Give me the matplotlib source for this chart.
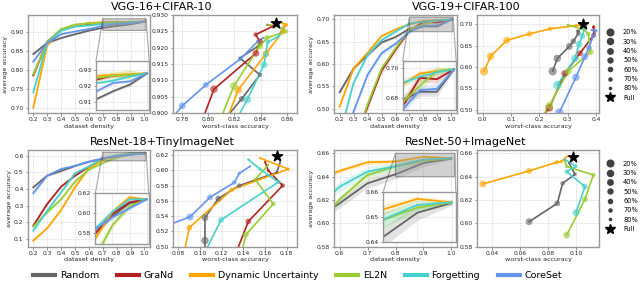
import numpy as np
import matplotlib
matplotlib.use("Agg")
import matplotlib.pyplot as plt
from matplotlib.lines import Line2D

methods = ["Random", "GraNd", "Dynamic Uncertainty", "EL2N", "Forgetting", "CoreSet"]
colors = ["#666666", "#b22222", "#ffa500", "#9acd32", "#48d1cc", "#6495ed"]

dens = [0.2, 0.3, 0.4, 0.5, 0.6, 0.7, 0.8, 0.9, 1.0]
dens_inet = [0.5, 0.6, 0.7, 0.8, 0.9, 1.0]
size_labels = ["20%", "30%", "40%", "50%", "60%", "70%", "80%"]
nan = np.nan

# ---------------- VGG-16 + CIFAR-10 ----------------
vgg16_avg = [
    [0.843, 0.872, 0.885, 0.895, 0.9043, 0.9117, 0.9168, 0.921, 0.928],
    [0.787, 0.875, 0.9073, 0.9183, 0.9219, 0.9240, 0.9266, 0.927, 0.928],
    [0.702, 0.865, 0.9071, 0.9181, 0.9249, 0.9264, 0.927, 0.9275, 0.928],
    [0.790, 0.874, 0.9083, 0.9206, 0.923, 0.925, 0.9265, 0.927, 0.928],
    [0.742, 0.872, 0.9041, 0.9148, 0.918, 0.9217, 0.9234, 0.926, 0.928],
    [0.823, 0.872, 0.895, 0.9022, 0.9086, 0.9166, 0.922, 0.923, 0.928],
]
vgg16_wc = [
    [nan, nan, nan, 0.806, 0.8255, 0.8395, 0.8242, 0.840],
    [nan, 0.774, 0.8043, 0.8364, 0.8395, 0.8362, 0.8497, 0.845],
    [nan, 0.782, 0.8229, 0.8441, 0.8569, 0.858, 0.860, 0.857],
    [nan, 0.785, 0.8196, 0.8395, 0.845, 0.8594, 0.853, 0.845],
    [nan, 0.786, 0.8298, 0.8426, 0.844, 0.8454, 0.8536, 0.857],
    [nan, nan, 0.765, 0.780, 0.798, 0.8247, 0.838, 0.842],
]
vgg16_std = [
    [0.004, 0.003, 0.002, 0.002, 0.001, 0.001, 0.001, 0.001, 0.0005],
    [0.006, 0.003, 0.002, 0.001, 0.001, 0.001, 0.001, 0.001, 0.0005],
    [0.008, 0.004, 0.002, 0.001, 0.001, 0.001, 0.002, 0.002, 0.0005],
    [0.006, 0.003, 0.002, 0.002, 0.002, 0.002, 0.002, 0.003, 0.0005],
    [0.006, 0.003, 0.002, 0.001, 0.001, 0.001, 0.001, 0.001, 0.0005],
    [0.005, 0.003, 0.002, 0.001, 0.001, 0.001, 0.001, 0.001, 0.0005],
]
vgg16_full = (0.8518, 0.9277)

# ---------------- VGG-19 + CIFAR-100 ----------------
vgg19_avg = [
    [0.537, 0.590, 0.620, 0.648, 0.660, 0.6784, 0.684, 0.684, 0.699],
    [0.330, 0.420, 0.505, 0.585, 0.632, 0.6744, 0.6933, 0.6924, 0.699],
    [0.505, 0.590, 0.625, 0.662, 0.677, 0.6889, 0.6962, 0.6978, 0.6991],
    [0.330, 0.420, 0.510, 0.590, 0.635, 0.677, 0.688, 0.6978, 0.699],
    [0.440, 0.558, 0.620, 0.653, 0.672, 0.6900, 0.694, 0.697, 0.699],
    [0.420, 0.494, 0.576, 0.624, 0.645, 0.672, 0.685, 0.686, 0.699],
]
vgg19_wc = [
    [nan, 0.247, 0.2635, 0.306, 0.320, 0.338, 0.335, 0.340],
    [nan, 0.135, 0.235, 0.290, 0.3435, 0.392, 0.392, 0.390],
    [nan, 0.005, 0.028, 0.085, 0.165, 0.238, 0.330, 0.345],
    [nan, 0.150, 0.235, 0.302, 0.381, 0.373, 0.355, 0.300],
    [nan, 0.2635, 0.326, 0.340, 0.352, 0.359, 0.355, 0.350],
    [nan, 0.2706, 0.329, 0.361, 0.375, 0.390, 0.400, 0.385],
]
vgg19_std = [
    [0.004, 0.003, 0.003, 0.003, 0.003, 0.003, 0.003, 0.003, 0.001],
    [0.006, 0.006, 0.006, 0.006, 0.006, 0.004, 0.003, 0.003, 0.001],
    [0.004, 0.003, 0.003, 0.003, 0.003, 0.002, 0.002, 0.002, 0.001],
    [0.006, 0.006, 0.006, 0.006, 0.005, 0.004, 0.004, 0.003, 0.001],
    [0.004, 0.004, 0.004, 0.004, 0.003, 0.003, 0.002, 0.002, 0.001],
    [0.005, 0.005, 0.006, 0.006, 0.005, 0.004, 0.003, 0.003, 0.001],
]
vgg19_full = (0.355, 0.700)

# ---------------- ResNet-18 + TinyImageNet ----------------
r18_avg = [
    [0.410, 0.480, 0.508, 0.538, 0.563, 0.580, 0.597, 0.610, 0.614],
    [0.180, 0.310, 0.414, 0.480, 0.533, 0.580, 0.5995, 0.611, 0.614],
    [0.090, 0.165, 0.274, 0.410, 0.525, 0.5745, 0.6015, 0.6160, 0.614],
    [0.175, 0.260, 0.338, 0.444, 0.516, 0.556, 0.588, 0.607, 0.614],
    [0.150, 0.270, 0.380, 0.494, 0.535, 0.5845, 0.6015, 0.614, 0.614],
    [0.375, 0.480, 0.520, 0.539, 0.5646, 0.584, 0.596, 0.605, 0.614],
]
r18_wc = [
    [nan, 0.1046, 0.1046, 0.1046, 0.1169, 0.1363, 0.1708, 0.1738],
    [nan, nan, nan, 0.130, 0.1446, 0.1763, 0.163, 0.160],
    [nan, nan, nan, 0.073, 0.0902, 0.1292, 0.1815, 0.1554],
    [nan, nan, nan, 0.130, 0.1425, 0.1677, 0.1508, 0.163],
    [nan, nan, nan, 0.105, 0.1194, 0.1723, 0.1554, 0.1446],
    [nan, 0.030, 0.055, 0.0908, 0.1092, 0.1317, 0.1363, 0.146],
]
r18_std = [
    [0.006, 0.004, 0.004, 0.003, 0.003, 0.002, 0.002, 0.002, 0.001],
    [0.008, 0.008, 0.006, 0.005, 0.004, 0.003, 0.002, 0.002, 0.001],
    [0.005, 0.006, 0.006, 0.006, 0.004, 0.003, 0.002, 0.002, 0.001],
    [0.008, 0.010, 0.012, 0.010, 0.008, 0.006, 0.004, 0.003, 0.001],
    [0.008, 0.008, 0.008, 0.006, 0.004, 0.003, 0.002, 0.002, 0.001],
    [0.012, 0.006, 0.004, 0.003, 0.003, 0.002, 0.002, 0.002, 0.001],
]
r18_full = (0.1708, 0.6187)

# ---------------- ResNet-50 + ImageNet ----------------
inet_methods = [0, 2, 3, 4]
inet_avg = [
    [0.6014, 0.6171, 0.6343, 0.6420, 0.6516, 0.6555],
    [0.6337, 0.6449, 0.6523, 0.6529, 0.6571, 0.6557],
    [0.5900, 0.6206, 0.6414, 0.6487, 0.6536, 0.6557],
    [0.6091, 0.6314, 0.6443, 0.6489, 0.6547, 0.6557],
]
inet_wc = [
    [0.0666, 0.0867, 0.0905, 0.0993, 0.0950],
    [0.0336, 0.0666, 0.0863, 0.0895, 0.0934],
    [0.0934, 0.1064, 0.1124, 0.0934, 0.0920],
    [0.1000, 0.1064, 0.0934, 0.1000, 0.0920],
]
inet_std = [
    [0.004, 0.004, 0.004, 0.004, 0.003, 0.001],
    [0.002, 0.002, 0.002, 0.002, 0.001, 0.001],
    [0.003, 0.003, 0.003, 0.003, 0.002, 0.001],
    [0.004, 0.004, 0.004, 0.003, 0.002, 0.001],
]
inet_full = (0.0981, 0.6571)

titles = ["VGG-16+CIFAR-10", "VGG-19+CIFAR-100", "ResNet-18+TinyImageNet", "ResNet-50+ImageNet"]

size_by_density = {0.2: 36, 0.3: 30, 0.4: 24, 0.5: 20, 0.6: 14, 0.7: 8, 0.8: 4, 0.9: 1.5}

TFS = 4.3
LFS = 4.6


def style(ax):
    for s in ax.spines.values():
        s.set_color("0.6")
        s.set_linewidth(1.0)
    ax.tick_params(labelsize=TFS, length=1.8, width=0.5, color="0.4", pad=1.2,
                   labelcolor="0.15")
    ax.grid(True, ls="--", lw=0.4, color="0.82")
    ax.set_axisbelow(True)


def density_panel(ax, x, avg, std, midx, xlim, ylim, yticks, yfmt,
                  ibounds, ixlim, iylim, iyticks, ifmt):
    style(ax)
    axins = ax.inset_axes(ibounds)
    for k, m in enumerate(midx):
        a = np.array(avg[k]); s = np.array(std[k])
        for target in (ax, axins):
            target.fill_between(x, a - s, a + s, color=colors[m], alpha=0.18, lw=0)
            target.plot(x, a, color=colors[m], lw=1.3)
    ax.set_xlim(*xlim); ax.set_ylim(*ylim)
    ax.set_xticks([t for t in np.round(np.arange(0.2, 1.01, 0.1), 1) if xlim[0] <= t <= xlim[1]])
    ax.set_yticks(yticks)
    ax.set_yticklabels([yfmt.format(t) for t in yticks])
    ax.set_xlabel("dataset density", fontsize=LFS, labelpad=1, color="0.15")
    ax.set_ylabel("average accuracy", fontsize=LFS, labelpad=1.5, color="0.15")
    style(axins)
    axins.set_xlim(*ixlim); axins.set_ylim(*iylim)
    axins.set_xticks([t for t in [0.7, 0.8, 0.9, 1.0] if ixlim[0] <= t <= ixlim[1]])
    axins.set_xticklabels([])
    axins.tick_params(axis="x", length=0)
    axins.set_yticks(iyticks)
    axins.set_yticklabels([ifmt.format(t) for t in iyticks])
    axins.set_facecolor("white")
    ax.indicate_inset_zoom(axins, edgecolor="0.25", facecolor="0.6", alpha=0.45, lw=0.8)


def scatter_panel(ax, x, avg, wc, midx, full, xlim, ylim, xticks, xfmt, yticks, yfmt):
    style(ax)
    for k, m in enumerate(midx):
        w = np.array(wc[k]); a = np.array(avg[k][:len(wc[k])])
        d = x[:len(wc[k])]
        sizes = [size_by_density[v] for v in d]
        ax.plot(w, a, color=colors[m], lw=1.2, zorder=2)
        ax.scatter(w, a, s=sizes, color=colors[m], alpha=0.6, lw=0.4,
                   edgecolors=colors[m], zorder=3)
    ax.scatter([full[0]], [full[1]], marker="*", s=60, color="black", zorder=5)
    ax.set_xlim(*xlim); ax.set_ylim(*ylim)
    ax.set_xticks(xticks)
    ax.set_xticklabels([xfmt.format(t) for t in xticks])
    ax.set_yticks(yticks)
    ax.set_yticklabels([yfmt.format(t) for t in yticks])
    ax.set_xlabel("worst-class accuracy", fontsize=LFS, labelpad=1, color="0.15")


fig = plt.figure(figsize=(6.4, 3.02), dpi=100)
W, H = 640.0, 302.0


def add_ax(x0, x1, y0, y1):
    return fig.add_axes([x0 / W, 1 - y1 / H, (x1 - x0) / W, (y1 - y0) / H])


ax1 = add_ax(27.7, 150, 15, 113)
ax2 = add_ax(173, 297, 15, 113)
ax3 = add_ax(334, 457, 15, 113)
ax4 = add_ax(477, 599, 15, 113)
ax5 = add_ax(27.7, 150, 150, 246.7)
ax6 = add_ax(173, 297, 150, 246.7)
ax7 = add_ax(334, 457, 150, 246.7)
ax8 = add_ax(477, 599, 150, 246.7)

all6 = list(range(6))

density_panel(ax1, dens, vgg16_avg, vgg16_std, all6, (0.16, 1.04), (0.688, 0.9455),
              [0.70, 0.75, 0.80, 0.85, 0.90], "{:.2f}",
              [0.558, 0.03, 0.435, 0.5], (0.7, 1.012), (0.905, 0.9357),
              [0.91, 0.92, 0.93], "{:.2f}")
scatter_panel(ax2, dens, vgg16_avg, vgg16_wc, all6, vgg16_full, (0.7729, 0.8679), (0.900, 0.930),
              [0.78, 0.80, 0.82, 0.84, 0.86], "{:.2f}",
              [0.900, 0.905, 0.910, 0.915, 0.920, 0.925, 0.930], "{:.3f}")

density_panel(ax3, dens, vgg19_avg, vgg19_std, all6, (0.16, 1.04), (0.491, 0.709),
              [0.50, 0.55, 0.60, 0.65, 0.70], "{:.2f}",
              [0.558, 0.03, 0.435, 0.5], (0.7, 1.012), (0.6718, 0.7045),
              [0.68, 0.70], "{:.2f}")
scatter_panel(ax4, dens, vgg19_avg, vgg19_wc, all6, vgg19_full, (-0.020, 0.4106), (0.493, 0.721),
              [0.0, 0.1, 0.2, 0.3, 0.4], "{:.1f}",
              [0.50, 0.55, 0.60, 0.65, 0.70], "{:.2f}")

density_panel(ax5, dens, r18_avg, r18_std, all6, (0.16, 1.04), (0.054, 0.634),
              [0.1, 0.2, 0.3, 0.4, 0.5, 0.6], "{:.1f}",
              [0.553, 0.025, 0.436, 0.527], (0.7, 1.012), (0.569, 0.620),
              [0.58, 0.60, 0.62], "{:.2f}")
scatter_panel(ax6, dens, r18_avg, r18_wc, all6, r18_full, (0.0751, 0.1895), (0.50, 0.6265),
              [0.08, 0.10, 0.12, 0.14, 0.16, 0.18], "{:.2f}",
              [0.50, 0.52, 0.54, 0.56, 0.58, 0.60, 0.62], "{:.2f}")

density_panel(ax7, dens_inet, inet_avg, inet_std, inet_methods, (0.58, 1.02), (0.58, 0.6628),
              [0.58, 0.60, 0.62, 0.64, 0.66], "{:.2f}",
              [0.40, 0.05, 0.59, 0.52], (0.8, 1.012), (0.64, 0.66),
              [0.64, 0.65, 0.66], "{:.2f}")
scatter_panel(ax8, dens_inet, inet_avg, inet_wc, inet_methods, inet_full, (0.0295, 0.1164), (0.58, 0.6628),
              [0.04, 0.06, 0.08, 0.10], "{:.2f}",
              [0.58, 0.60, 0.62, 0.64, 0.66], "{:.2f}")

# Titles
fig.text(162 / W, 1 - 7 / H, titles[0], ha="center", va="center", fontsize=8)
fig.text(466 / W, 1 - 7 / H, titles[1], ha="center", va="center", fontsize=8)
fig.text(162 / W, 1 - 142 / H, titles[2], ha="center", va="center", fontsize=8)
fig.text(466 / W, 1 - 142 / H, titles[3], ha="center", va="center", fontsize=8)

# Size legends
size_handles = [Line2D([], [], ls="none", marker="o", color="#404040",
                       markersize=np.sqrt(size_by_density[d]) * 0.8)
                for d in [0.2, 0.3, 0.4, 0.5, 0.6, 0.7, 0.8]]
size_handles.append(Line2D([], [], ls="none", marker="*", color="black", markersize=7.5))
for ax, yc in ((ax4, 0.49), (ax8, 0.52)):
    ax.legend(size_handles, size_labels + ["Full"], loc="center left",
              bbox_to_anchor=(1.0, yc), frameon=False, fontsize=4.8,
              handletextpad=0.9, labelspacing=0.5, borderaxespad=0.3)

# Method legend
line_handles = [Line2D([], [], color=c, lw=3) for c in colors]
fig.legend(line_handles, methods, loc="center", bbox_to_anchor=(0.465, 1 - 276 / H),
           ncol=6, frameon=False, fontsize=6.8, handlelength=2.3, handletextpad=0.5,
           columnspacing=1.9)

fig.savefig("out.png", dpi=100)
